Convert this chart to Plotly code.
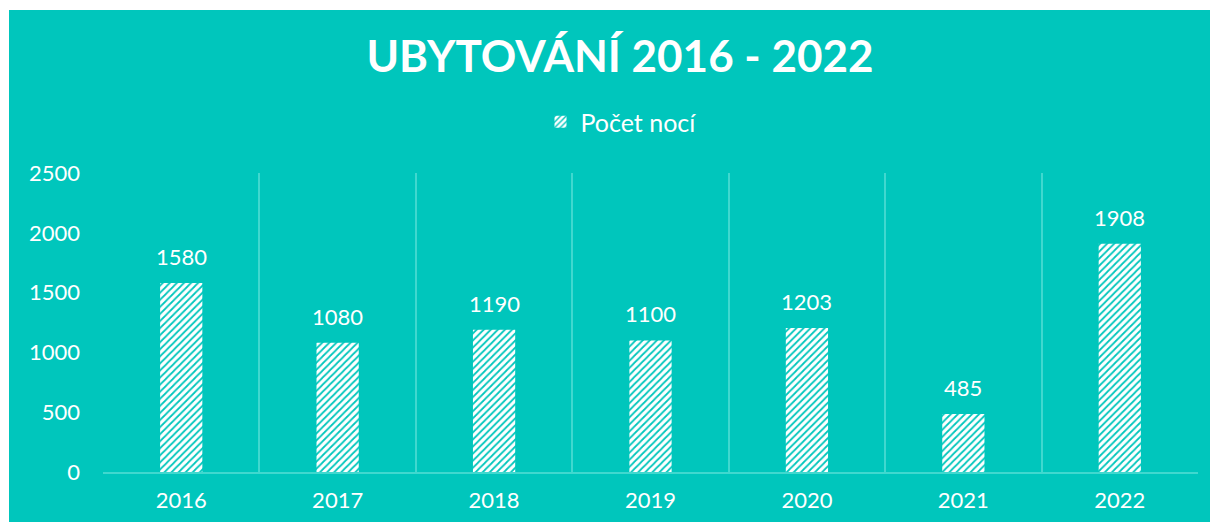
import plotly.graph_objects as go

years = ["2016", "2017", "2018", "2019", "2020", "2021", "2022"]
nights = [1580, 1080, 1190, 1100, 1203, 485, 1908]
series_name = "Počet nocí"
title_text = "UBYTOVÁNÍ 2016 - 2022"
y_ticks = [0, 500, 1000, 1500, 2000, 2500]

TEAL = "#00C6BC"
GRID = "#40D8CF"
FONT = "Lato"

# figure pixel geometry (page is offset by the 8px body margin)
W, H = 1210, 514
L, R, T, B = 95, 20, 165, 50
PW, PH = W - L - R, H - T - B

fig = go.Figure()
fig.add_trace(go.Bar(
    x=years, y=nights, name=series_name,
    marker=dict(color="white", line=dict(width=0),
                pattern=dict(shape="/", fgcolor=TEAL, bgcolor="white",
                             size=5, solidity=0.35, fillmode="replace")),
    showlegend=True,
))

for i, v in enumerate(nights):
    fig.add_annotation(x=i, y=v, text=str(v), showarrow=False,
                       yanchor="bottom", yshift=11,
                       font=dict(family=FONT, size=22, color="white"))

fig.add_shape(type="rect", xref="paper", yref="paper",
              x0=(1 - L) / PW, x1=(W + 10 - L) / PW,
              y0=-(B + 10) / PH, y1=(T - 2) / PH + 1,
              fillcolor=TEAL, line=dict(width=0), layer="below")

fig.update_layout(
    width=W, height=H,
    margin=dict(l=L, r=R, t=T, b=B, autoexpand=False),
    paper_bgcolor="white", plot_bgcolor="rgba(0,0,0,0)",
    bargap=0.73,
    title=dict(text=title_text, x=(612 - L) / PW, xref="paper", xanchor="center",
               y=1 - 49 / H, yanchor="middle",
               font=dict(family=FONT, size=44, color="white", weight="bold")),
    legend=dict(orientation="h", x=(613 - L) / PW, xanchor="center",
                y=(T + PH - 114) / PH, yanchor="middle",
                font=dict(family=FONT, size=25, color="white"),
                bgcolor="rgba(0,0,0,0)", itemwidth=30),
    font=dict(family=FONT, color="white"),
)

fig.update_xaxes(type="category", tickson="boundaries", showgrid=True,
                 range=[-0.5, 6.5], automargin=False,
                 gridcolor=GRID, gridwidth=1.5, ticks="", showline=True,
                 linecolor=GRID, linewidth=2, mirror=False,
                 tickfont=dict(family=FONT, size=22, color="white"),
                 ticklabelstandoff=8)
fig.update_yaxes(range=[0, 2500], tickvals=y_ticks, showgrid=False,
                 zeroline=False, showline=False, ticks="", automargin=False,
                 tickfont=dict(family=FONT, size=22, color="white"),
                 ticklabelstandoff=22)

fig.write_html("out.html")
